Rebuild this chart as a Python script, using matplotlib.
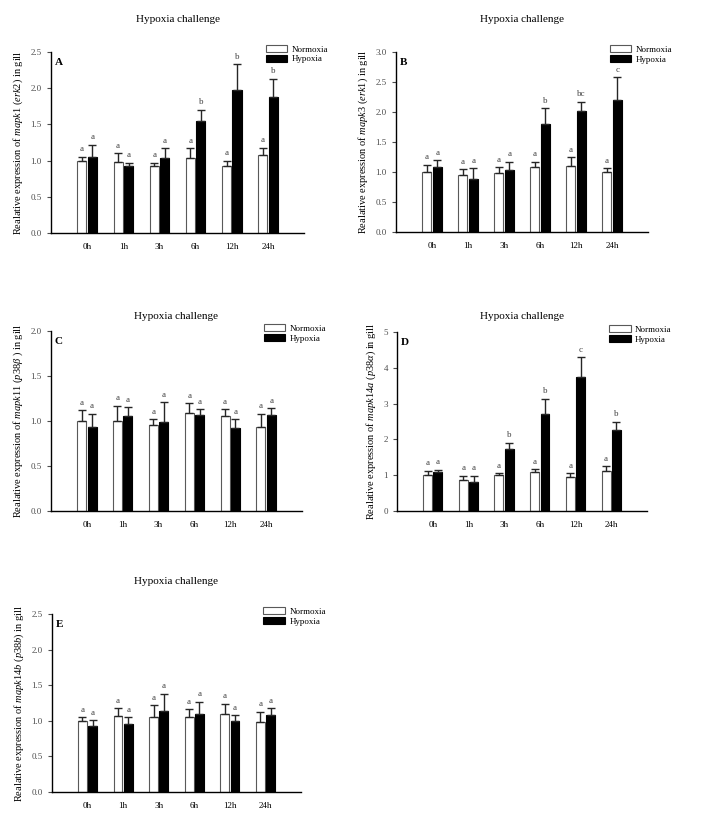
import numpy as np
import matplotlib
matplotlib.use('Agg')
import matplotlib.pyplot as plt

plt.rcParams['font.family'] = 'Liberation Serif'
plt.rcParams['mathtext.fontset'] = 'custom'
plt.rcParams['mathtext.rm'] = 'Liberation Serif'
plt.rcParams['mathtext.it'] = 'Liberation Serif:italic'

times = ['0h', '1h', '3h', '6h', '12h', '24h']

# panel A - mapk1
a_norm = [1.00, 0.98, 0.93, 1.03, 0.92, 1.07]
a_norm_err = [0.05, 0.12, 0.04, 0.14, 0.08, 0.11]
a_hyp = [1.05, 0.93, 1.03, 1.54, 1.98, 1.88]
a_hyp_err = [0.17, 0.04, 0.14, 0.16, 0.35, 0.25]
a_hyp_lab = ['a', 'a', 'a', 'b', 'b', 'b']

# panel B - mapk3
b_norm = [1.00, 0.95, 0.98, 1.08, 1.10, 1.00]
b_norm_err = [0.12, 0.10, 0.10, 0.09, 0.15, 0.06]
b_hyp = [1.09, 0.88, 1.03, 1.80, 2.01, 2.20]
b_hyp_err = [0.11, 0.18, 0.14, 0.26, 0.16, 0.38]
b_hyp_lab = ['a', 'a', 'a', 'b', 'bc', 'c']

# panel C - mapk11
c_norm = [1.00, 1.00, 0.96, 1.09, 1.05, 0.93]
c_norm_err = [0.12, 0.17, 0.06, 0.11, 0.08, 0.15]
c_hyp = [0.93, 1.05, 0.99, 1.07, 0.92, 1.07]
c_hyp_err = [0.15, 0.10, 0.22, 0.06, 0.10, 0.07]
c_hyp_lab = ['a', 'a', 'a', 'a', 'a', 'a']

# panel D - mapk14a
d_norm = [1.00, 0.87, 1.00, 1.08, 0.95, 1.11]
d_norm_err = [0.12, 0.11, 0.05, 0.09, 0.10, 0.14]
d_hyp = [1.08, 0.80, 1.72, 2.70, 3.75, 2.25]
d_hyp_err = [0.07, 0.19, 0.19, 0.44, 0.55, 0.24]
d_hyp_lab = ['a', 'a', 'b', 'b', 'c', 'b']

# panel E - mapk14b
e_norm = [1.00, 1.07, 1.05, 1.06, 1.09, 0.98]
e_norm_err = [0.05, 0.11, 0.17, 0.10, 0.15, 0.15]
e_hyp = [0.92, 0.96, 1.14, 1.09, 1.00, 1.08]
e_hyp_err = [0.09, 0.09, 0.24, 0.18, 0.08, 0.10]
e_hyp_lab = ['a', 'a', 'a', 'a', 'a', 'a']

norm_lab = ['a'] * 6


def panel(ax, norm, norm_err, hyp, hyp_err, hyp_lab, ymax, step, ylabel,
          letter, title_gap, fmt='%.1f'):
    x = np.arange(len(times))
    w = 0.25
    ekw = dict(ecolor='0.15', elinewidth=1.0, capsize=2.8, capthick=1.0)
    ax.bar(x - 0.145, norm, w, color='white', edgecolor='0.35', linewidth=0.8,
           yerr=[np.zeros(6), norm_err], error_kw=ekw, label='Normoxia')
    ax.bar(x + 0.145, hyp, w, color='black', edgecolor='black', linewidth=0.8,
           yerr=[np.zeros(6), hyp_err], error_kw=ekw, label='Hypoxia')
    for i in range(6):
        ax.annotate(norm_lab[i], (x[i] - 0.145, norm[i] + norm_err[i]),
                    xytext=(0, 2.5), textcoords='offset points',
                    ha='center', va='bottom', fontsize=6.5, color='0.25')
        ax.annotate(hyp_lab[i], (x[i] + 0.145, hyp[i] + hyp_err[i]),
                    xytext=(0, 2.5), textcoords='offset points',
                    ha='center', va='bottom', fontsize=6.5, color='0.25')
    ax.set_xlim(-1, 6)
    ax.set_ylim(0, ymax)
    ticks = np.arange(0, ymax + step / 2, step)
    ax.set_yticks(ticks)
    ax.set_yticklabels([fmt % t for t in ticks])
    ax.set_xticks(x)
    ax.set_xticklabels(times)
    ax.tick_params(axis='x', length=0, pad=7, labelsize=6.5)
    ax.tick_params(axis='y', length=3, width=0.8, direction='out', labelsize=6.5,
                   colors='0.3', labelcolor='0.3')
    ax.spines['top'].set_visible(False)
    ax.spines['right'].set_visible(False)
    ax.spines['left'].set_linewidth(1.0)
    ax.spines['bottom'].set_linewidth(1.0)
    ax.set_ylabel(ylabel, fontsize=7.5, labelpad=4)
    ax.text(0.015, 0.965, letter, transform=ax.transAxes, fontsize=8,
            fontweight='bold', ha='left', va='top')
    ax.text(0.5, 1 + title_gap, 'Hypoxia challenge', transform=ax.transAxes,
            fontsize=8, ha='center', va='center')
    ax.legend(loc='upper left', bbox_to_anchor=(0.83, 1.065), frameon=False,
              fontsize=6.5, handlelength=2.4, handleheight=0.9, borderpad=0,
              labelspacing=0.12, handletextpad=0.5)


fig = plt.figure(figsize=(7.07, 8.18), dpi=100)
axA = fig.add_axes([0.0721, 0.7152, 0.358, 0.2213])
axB = fig.add_axes([0.560, 0.7164, 0.3566, 0.2200])
axC = fig.add_axes([0.0721, 0.3753, 0.355, 0.2201])
axD = fig.add_axes([0.5615, 0.3753, 0.3536, 0.2188])
axE = fig.add_axes([0.0735, 0.0318, 0.3522, 0.2176])

panel(axA, a_norm, a_norm_err, a_hyp, a_hyp_err, a_hyp_lab, 2.5, 0.5,
      r'Realative expression of $\mathit{mapk1}$ ($\mathit{erk2}$) in gill', 'A', 0.177)
panel(axB, b_norm, b_norm_err, b_hyp, b_hyp_err, b_hyp_lab, 3.0, 0.5,
      r'Realative expression of $\mathit{mapk3}$ ($\mathit{erk1}$) in gill', 'B', 0.178)
panel(axC, c_norm, c_norm_err, c_hyp, c_hyp_err, c_hyp_lab, 2.0, 0.5,
      r'Realative expression of $\mathit{mapk11}$ ($\mathit{p38β}$ ) in gill', 'C', 0.078)
panel(axD, d_norm, d_norm_err, d_hyp, d_hyp_err, d_hyp_lab, 5, 1,
      r'Realative expression of $\mathit{mapk14a}$ ($\mathit{p38α}$) in gill', 'D', 0.084, fmt='%d')
panel(axE, e_norm, e_norm_err, e_hyp, e_hyp_err, e_hyp_lab, 2.5, 0.5,
      r'Realative expression of $\mathit{mapk14b}$ ($\mathit{p38b}$) in gill', 'E', 0.18)

fig.savefig('out.png', dpi=100)
